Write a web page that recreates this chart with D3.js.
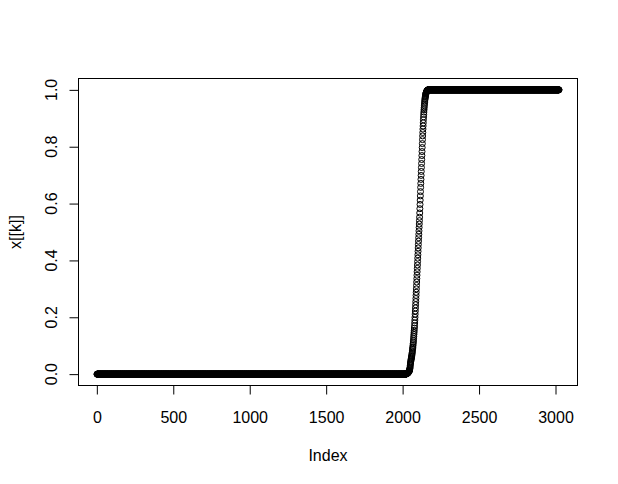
<!DOCTYPE html>
<html><head><meta charset="utf-8">
<script src="https://cdn.jsdelivr.net/npm/d3@7/dist/d3.min.js"></script>
<style>body{margin:0;background:#fff}svg{display:block}</style>
</head><body>
<svg id="c" width="618" height="484"></svg>
<script>
// ---- data ----
const zeroCount = 2018;   // indices 1..2018 sit at 0
const transition = [
 0,0,0,0,0.001,0.001,0.001,0.001,0.002,0.002,0.002,0.003,
 0.003,0.003,0.004,0.004,0.005,0.005,0.006,0.007,0.007,0.008,
 0.009,0.010,0.011,0.012,0.013,0.015,0.018,0.021,0.025,0.030,
 0.035,0.039,0.043,0.046,0.050,0.053,0.056,0.059,0.062,0.065,
 0.069,0.073,0.077,0.082,0.087,0.091,0.095,0.101,0.107,0.113,
 0.119,0.126,0.133,0.140,0.147,0.154,0.162,0.170,0.180,0.190,
 0.200,0.211,0.222,0.233,0.244,0.255,0.266,0.277,0.288,0.300,
 0.312,0.324,0.336,0.348,0.360,0.372,0.384,0.396,0.408,0.420,
 0.432,0.444,0.456,0.468,0.480,0.492,0.504,0.516,0.528,0.540,
 0.552,0.567,0.582,0.597,0.612,0.627,0.642,0.657,0.671,0.685,
 0.699,0.713,0.727,0.741,0.755,0.769,0.783,0.797,0.811,0.825,
 0.838,0.850,0.862,0.873,0.884,0.895,0.905,0.914,0.922,0.930,
 0.937,0.944,0.950,0.956,0.961,0.966,0.970,0.974,0.977,0.980,
 0.983,0.986,0.988,0.990,0.992,0.993,0.994,0.995,0.996,0.997,
 0.998,0.998,0.999,0.999
];
const oneCount = 859;     // remaining indices sit at 1
const xTicks = [0, 500, 1000, 1500, 2000, 2500, 3000];
const yTicks = [0, 0.2, 0.4, 0.6, 0.8, 1.0];
const yTickLabels = ["0.0", "0.2", "0.4", "0.6", "0.8", "1.0"];
const xTitle = "Index";
const yTitle = "x[[k]]";

// ---- build series ----
const values = [].concat(new Array(zeroCount).fill(0), transition, new Array(oneCount).fill(1));
const pts = values.map((v, i) => ({ i: i + 1, v }));
const n = values.length;

const FONT = "'Liberation Sans', Arial, sans-serif";
const box = { l: 78.5, r: 577.5, t: 78.5, b: 385.5 };
const xpad = 0.04 * (n - 1);
const x = d3.scaleLinear().domain([1 - xpad, n + xpad]).range([box.l, box.r]);
const y = d3.scaleLinear().domain([-0.04, 1.04]).range([box.b, box.t]);

const svg = d3.select("#c");
svg.append("rect").attr("width", 618).attr("height", 484).attr("fill", "#fff");

// points
svg.append("g").selectAll("circle").data(pts).join("circle")
  .attr("cx", d => x(d.i)).attr("cy", d => y(d.v)).attr("r", 3)
  .attr("fill", "none").attr("stroke", "#000").attr("stroke-width", 1);

// box
svg.append("rect").attr("x", box.l).attr("y", box.t)
  .attr("width", box.r - box.l).attr("height", box.b - box.t)
  .attr("fill", "none").attr("stroke", "#000").attr("stroke-width", 1);

// x axis
const xa = svg.append("g").attr("transform", `translate(0,${box.b})`)
  .call(d3.axisBottom(x).tickValues(xTicks).tickFormat(d3.format("d")).tickSize(9).tickPadding(17));
xa.select(".domain").attr("d", `M${x(xTicks[0])},0H${x(xTicks[xTicks.length-1])}`).attr("stroke", "#000");
xa.selectAll(".tick line").attr("stroke", "#000");
xa.selectAll("text").attr("font-family", FONT).attr("font-size", 16).attr("fill", "#000");

// y axis
const ya = svg.append("g").attr("transform", `translate(${box.l},0)`)
  .call(d3.axisLeft(y).tickValues(yTicks).tickSize(9).tickFormat(""));
ya.select(".domain").attr("d", `M0,${y(yTicks[0])}V${y(yTicks[yTicks.length-1])}`).attr("stroke", "#000");
ya.selectAll(".tick line").attr("stroke", "#000");
svg.append("g").selectAll("text").data(yTicks).join("text")
  .attr("transform", (d) => `translate(56.5,${y(d)}) rotate(-90)`)
  .attr("text-anchor", "middle").attr("font-family", FONT).attr("font-size", 16).attr("fill", "#000")
  .text((d, i) => yTickLabels[i]);

// titles
svg.append("text").attr("x", (box.l + box.r) / 2).attr("y", 461)
  .attr("text-anchor", "middle").attr("font-family", FONT).attr("font-size", 16).attr("fill", "#000")
  .text(xTitle);
svg.append("text").attr("transform", `translate(21,${(box.t + box.b) / 2}) rotate(-90)`)
  .attr("text-anchor", "middle").attr("font-family", FONT).attr("font-size", 16).attr("fill", "#000")
  .text(yTitle);
</script>
</body></html>
